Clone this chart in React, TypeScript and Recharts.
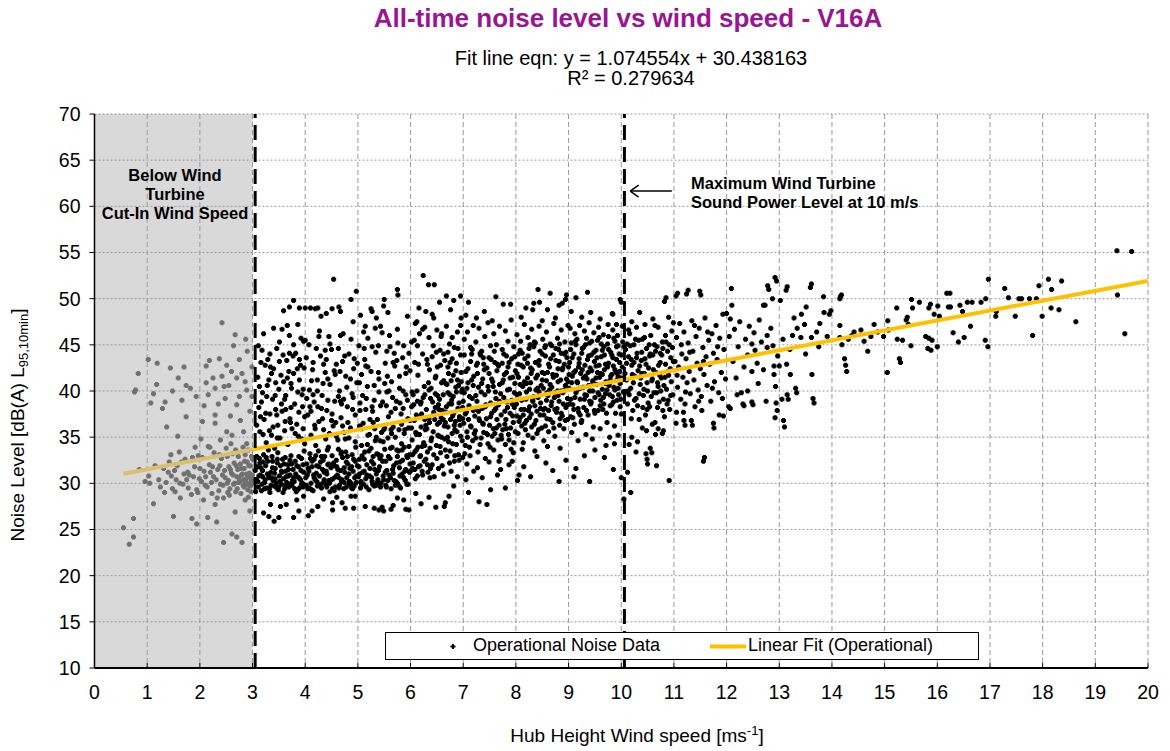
import React from "react";
import {
  ScatterChart,
  Scatter,
  XAxis,
  YAxis,
  CartesianGrid,
  ReferenceArea,
  ReferenceLine,
} from "recharts";

// Wind speed (m/s) / noise level (dB) pairs, grouped by wind speed band.
const belowCutIn: [number, number][] = [
  [0.55, 25.2], [0.66, 23.4], [0.74, 24.2], [0.74, 26.2], [0.76, 39.9], [0.78, 40.1], [0.83, 41.9], [0.85, 31.5],
  [0.96, 30.2], [1.02, 43.4], [1.05, 30.0], [1.07, 38.7], [1.12, 39.7], [1.12, 27.8], [1.18, 40.7], [1.19, 43.0],
  [1.25, 29.6], [1.29, 38.1], [1.34, 38.8], [1.37, 36.1], [1.4, 31.2], [1.44, 42.5], [1.46, 30.8], [1.5, 26.4],
  [1.52, 31.4], [1.55, 30.4], [1.59, 41.4], [1.62, 30.0], [1.63, 28.4], [1.66, 39.0], [1.7, 31.0], [1.74, 40.6],
  [1.74, 37.2], [1.75, 30.4], [1.78, 29.5], [1.82, 40.3], [1.85, 26.2], [1.88, 30.7], [1.9, 31.8], [1.93, 39.4],
  [1.94, 29.3], [1.94, 25.6], [1.97, 33.0], [2.0, 31.6], [2.03, 30.2], [2.07, 28.2], [2.1, 29.8], [2.12, 42.7],
  [2.12, 40.9], [2.15, 26.3], [2.16, 39.6], [2.16, 34.0], [2.2, 31.2], [2.22, 30.1], [2.25, 41.4], [2.26, 30.7],
  [2.29, 40.3], [2.29, 37.4], [2.29, 36.5], [2.29, 27.7], [2.32, 25.8], [2.34, 31.5], [2.36, 29.2], [2.39, 34.7],
  [2.39, 29.9], [2.42, 41.6], [2.42, 47.4], [2.45, 28.4], [2.45, 23.6], [2.46, 40.5], [2.48, 30.6], [2.51, 42.8],
  [2.51, 35.6], [2.52, 30.0], [2.52, 32.9], [2.55, 31.8], [2.57, 29.4], [2.59, 34.3], [2.61, 35.2], [2.61, 24.5],
  [2.63, 30.9], [2.65, 32.2], [2.67, 26.9], [2.68, 29.1], [2.7, 41.4], [2.7, 38.5], [2.7, 30.7], [2.7, 24.2],
  [2.72, 31.5], [2.73, 32.9], [2.75, 43.4], [2.75, 39.4], [2.76, 30.2], [2.78, 28.9], [2.8, 41.9], [2.8, 23.6],
  [2.81, 31.0], [2.83, 35.6], [2.84, 29.6], [2.85, 32.4], [2.86, 41.0], [2.86, 28.2], [2.88, 30.5], [2.89, 40.1],
  [2.89, 34.3], [2.89, 31.0], [2.91, 29.3], [2.92, 33.6], [2.93, 30.8], [2.95, 30.0], [2.95, 27.0], [2.96, 31.9],
  [2.97, 29.1], [2.98, 30.4], [2.99, 42.6], [2.99, 39.4], [3.0, 32.6], [3.01, 30.0],
  [1.31, 31.6], [1.36, 30.1], [1.42, 32.3], [1.48, 29.4], [1.57, 31.9], [1.61, 33.4], [1.68, 29.9], [1.72, 32.6],
  [1.8, 30.9], [1.84, 28.8], [1.91, 33.9], [1.99, 30.5], [2.05, 32.8], [2.08, 31.3], [2.14, 29.6], [2.18, 32.0],
  [2.23, 28.9], [2.27, 33.3], [2.31, 30.4], [2.38, 31.9], [2.41, 32.7], [2.44, 29.8], [2.47, 31.4], [2.5, 33.8],
  [2.54, 30.3], [2.56, 28.7], [2.6, 31.1], [2.62, 33.2], [2.66, 30.0], [2.69, 31.9], [2.71, 29.4], [2.74, 30.6],
  [2.77, 32.1], [2.79, 30.9], [2.82, 29.8], [2.84, 31.6], [2.87, 30.2], [2.9, 32.3], [2.92, 28.5], [2.94, 31.1],
  [2.96, 29.7], [2.98, 32.9], [3.0, 30.9], [2.58, 37.3], [2.35, 38.6], [2.77, 36.8], [2.18, 43.3], [2.64, 44.9],
  [2.87, 45.6], [2.48, 39.2], [1.58, 35.1], [2.05, 36.7], [2.95, 37.8], [2.82, 33.9], [2.55, 40.6],
  [1.03, 30.8], [1.15, 31.9], [1.22, 30.4], [1.33, 29.0], [1.45, 33.1], [1.53, 29.1], [1.65, 32.3], [1.77, 31.2],
  [1.86, 32.8], [1.96, 29.0], [2.02, 34.8], [2.11, 30.7], [2.19, 33.9], [2.24, 31.8], [2.33, 28.4], [2.37, 33.1],
  [2.43, 30.9], [2.53, 29.0], [2.58, 31.5], [2.64, 29.9], [2.68, 33.6], [2.73, 30.1], [2.78, 31.6], [2.83, 30.4],
  [2.86, 33.1], [2.9, 29.9], [2.93, 31.9], [2.97, 30.6], [2.6, 42.1], [2.37, 43.5], [2.08, 38.4], [1.7, 42.6],
  [1.48, 40.0], [2.9, 44.3], [2.67, 46.1],
];

const band3to4: [number, number][] = [
  [3.59, 48.7], [3.7, 49.1], [3.78, 49.8], [3.89, 49.0], [3.56, 46.7], [3.66, 47.1], [3.86, 47.2], [3.78, 45.0],
  [3.18, 44.4], [3.21, 26.8], [3.31, 26.4], [3.41, 25.9], [3.5, 26.3], [3.34, 27.7], [3.53, 27.5], [3.64, 27.7],
  [3.78, 26.3], [3.88, 27.0], [3.84, 28.2], [3.97, 28.6],
  [3.1, 41.5], [3.12, 38.2], [3.14, 35.6], [3.16, 43.1], [3.19, 39.8], [3.22, 36.9], [3.24, 42.8], [3.26, 34.4],
  [3.28, 40.6], [3.31, 41.2], [3.33, 37.5], [3.34, 42.6], [3.36, 35.2], [3.38, 39.1], [3.4, 42.4], [3.42, 33.8],
  [3.44, 38.0], [3.46, 44.6], [3.48, 36.3], [3.5, 40.2], [3.52, 34.9], [3.54, 41.7], [3.56, 37.8], [3.59, 41.0],
  [3.61, 35.7], [3.63, 39.5], [3.65, 43.3], [3.67, 34.2], [3.69, 42.1], [3.71, 37.0], [3.73, 40.8], [3.75, 35.9],
  [3.78, 41.9], [3.8, 38.6], [3.82, 44.1], [3.84, 36.4], [3.86, 39.9], [3.89, 41.2], [3.91, 42.8], [3.93, 34.8],
  [3.95, 38.3], [3.97, 45.4], [3.99, 37.2],
  [3.07, 30.4], [3.09, 31.8], [3.11, 29.6], [3.13, 32.7], [3.15, 30.9], [3.17, 29.2], [3.19, 31.4], [3.21, 33.1],
  [3.23, 30.1], [3.25, 31.9], [3.27, 29.5], [3.29, 32.4], [3.31, 30.6], [3.33, 29.0], [3.35, 31.2], [3.37, 32.9],
  [3.39, 30.3], [3.41, 29.7], [3.43, 31.6], [3.45, 30.0], [3.47, 32.2], [3.49, 29.3], [3.51, 30.8], [3.53, 31.9],
  [3.55, 29.9], [3.57, 32.6], [3.59, 30.5], [3.61, 29.4], [3.63, 31.3], [3.65, 30.1], [3.67, 32.0], [3.69, 29.6],
  [3.71, 30.9], [3.73, 33.0], [3.75, 29.8], [3.77, 31.5], [3.79, 30.2], [3.81, 32.4], [3.83, 29.1], [3.85, 30.7],
  [3.87, 31.8], [3.89, 29.5], [3.91, 30.4], [3.93, 32.7], [3.95, 30.0], [3.97, 31.2], [3.99, 29.7],
];

const band4to5: [number, number][] = [
  [4.0, 49.0], [4.1, 49.0], [4.19, 48.9], [4.24, 49.0], [4.3, 48.1], [4.4, 48.4], [4.51, 48.9], [4.54, 52.1],
  [4.64, 49.1], [4.67, 48.6], [4.87, 49.9], [4.97, 50.8], [4.91, 47.5], [4.0, 45.5], [4.26, 45.9], [4.45, 45.9],
  [4.67, 46.0], [4.72, 46.2],
  [4.06, 26.5], [4.13, 27.0], [4.24, 27.5], [4.52, 27.1], [4.52, 27.9], [4.7, 27.9], [4.76, 27.3], [4.87, 28.6],
  [4.92, 27.3], [4.95, 28.6], [4.35, 28.3], [4.6, 28.5],
  [4.02, 43.6], [4.05, 37.4], [4.08, 40.1], [4.11, 35.2], [4.14, 42.3], [4.17, 38.8], [4.2, 34.1], [4.23, 41.2],
  [4.26, 36.7], [4.29, 43.8], [4.32, 39.5], [4.35, 35.8], [4.38, 42.0], [4.41, 37.9], [4.44, 33.9], [4.47, 40.7],
  [4.5, 44.5], [4.53, 36.2], [4.56, 38.9], [4.59, 42.9], [4.62, 34.7], [4.65, 40.0], [4.68, 37.1], [4.71, 43.2],
  [4.74, 35.5], [4.77, 41.6], [4.8, 38.3], [4.83, 44.0], [4.86, 36.0], [4.89, 39.7], [4.92, 42.4], [4.95, 34.5],
  [4.98, 40.9], [4.15, 39.6], [4.43, 41.3], [4.73, 39.1], [4.58, 36.6], [4.33, 37.0],
  [4.01, 30.6], [4.03, 32.1], [4.05, 29.4], [4.07, 31.3], [4.09, 33.2], [4.11, 30.0], [4.13, 31.8], [4.15, 29.2],
  [4.17, 32.6], [4.19, 30.4], [4.21, 31.1], [4.23, 29.7], [4.25, 33.5], [4.27, 30.8], [4.29, 32.3], [4.31, 29.5],
  [4.33, 31.5], [4.35, 30.1], [4.37, 32.9], [4.39, 29.9], [4.41, 31.0], [4.43, 32.0], [4.45, 30.3], [4.47, 29.1],
  [4.49, 31.7], [4.51, 33.0], [4.53, 30.5], [4.55, 31.9], [4.57, 29.6], [4.59, 32.5], [4.61, 30.9], [4.63, 33.7],
  [4.65, 29.8], [4.67, 31.4], [4.69, 30.2], [4.71, 32.8], [4.73, 29.4], [4.75, 31.2], [4.77, 33.4], [4.79, 30.6],
  [4.81, 32.1], [4.83, 29.9], [4.85, 31.6], [4.87, 30.0], [4.89, 33.1], [4.91, 31.3], [4.93, 29.7], [4.95, 32.4],
  [4.97, 30.8], [4.99, 31.9],
];

const band5to6: [number, number][] = [
  [5.05, 48.2], [5.14, 47.0], [5.25, 48.9], [5.27, 48.6], [5.35, 47.9], [5.5, 49.9], [5.49, 49.2], [5.57, 48.5],
  [5.75, 51.0], [5.76, 50.4], [5.94, 48.1],
  [5.14, 27.5], [5.31, 27.3], [5.4, 27.1], [5.46, 27.4], [5.49, 27.0], [5.63, 27.2], [5.67, 27.6], [5.75, 28.4],
  [5.87, 28.2], [5.91, 27.2], [5.97, 27.1],
  [5.02, 44.9], [5.04, 38.7], [5.07, 41.8], [5.1, 36.5], [5.13, 43.4], [5.16, 39.2], [5.19, 45.7], [5.22, 35.3],
  [5.25, 42.1], [5.28, 37.8], [5.31, 40.6], [5.34, 44.2], [5.37, 36.9], [5.4, 41.3], [5.43, 38.4], [5.46, 46.3],
  [5.49, 35.8], [5.52, 43.0], [5.55, 39.9], [5.58, 37.2], [5.61, 44.8], [5.64, 41.0], [5.67, 36.1], [5.7, 42.7],
  [5.73, 38.9], [5.76, 45.2], [5.79, 40.3], [5.82, 37.5], [5.85, 43.6], [5.88, 35.4], [5.91, 41.9], [5.94, 39.0],
  [5.97, 44.1], [5.99, 36.8], [5.18, 40.5], [5.42, 34.6], [5.66, 39.3], [5.86, 38.1], [5.33, 46.8], [5.6, 46.0],
  [5.01, 30.7], [5.03, 32.6], [5.05, 29.5], [5.07, 34.1], [5.09, 31.2], [5.11, 29.9], [5.13, 33.4], [5.15, 30.5],
  [5.17, 32.0], [5.19, 35.2], [5.21, 29.3], [5.23, 31.6], [5.25, 33.8], [5.27, 30.2], [5.29, 32.9], [5.31, 29.7],
  [5.33, 34.6], [5.35, 31.0], [5.37, 30.1], [5.39, 33.1], [5.41, 31.8], [5.43, 29.6], [5.45, 35.5], [5.47, 32.4],
  [5.49, 30.4], [5.51, 33.7], [5.53, 29.8], [5.55, 31.4], [5.57, 34.9], [5.59, 30.9], [5.61, 32.7], [5.63, 29.4],
  [5.65, 33.9], [5.67, 31.1], [5.69, 30.3], [5.71, 35.0], [5.73, 32.2], [5.75, 30.0], [5.77, 33.5], [5.79, 31.7],
  [5.81, 29.5], [5.83, 34.3], [5.85, 32.5], [5.87, 30.6], [5.89, 35.8], [5.91, 31.5], [5.93, 33.0], [5.95, 29.9],
  [5.97, 34.0], [5.99, 32.1],
];

// extra readings in the crowded low-wind band
const core3to6: [number, number][] = [
  [3.06, 29.1], [3.08, 32.9], [3.12, 30.8], [3.16, 31.7], [3.18, 29.9], [3.2, 32.3], [3.24, 30.4], [3.28, 31.0],
  [3.3, 33.6], [3.32, 29.4], [3.36, 30.6], [3.38, 32.4], [3.42, 31.1], [3.46, 29.5], [3.48, 33.3], [3.52, 30.2],
  [3.56, 31.2], [3.58, 29.0], [3.62, 32.8], [3.64, 30.7], [3.68, 31.5], [3.72, 29.9], [3.74, 32.1], [3.78, 30.6],
  [3.82, 31.0], [3.86, 29.3], [3.88, 32.9], [3.92, 31.4], [3.96, 29.6], [3.98, 33.5],
  [4.02, 29.8], [4.06, 31.6], [4.1, 32.7], [4.12, 29.3], [4.16, 30.9], [4.2, 33.0], [4.22, 30.2], [4.26, 31.8],
  [4.3, 29.6], [4.34, 32.5], [4.36, 30.4], [4.4, 31.3], [4.42, 33.6], [4.46, 30.0], [4.48, 31.9], [4.52, 29.4],
  [4.54, 32.2], [4.58, 30.7], [4.62, 31.5], [4.64, 29.5], [4.68, 33.2], [4.7, 30.4], [4.74, 31.7], [4.78, 29.6],
  [4.8, 32.9], [4.84, 30.2], [4.88, 31.8], [4.9, 29.4], [4.94, 30.6], [4.96, 33.9],
  [5.02, 31.8], [5.06, 30.2], [5.08, 33.0], [5.12, 31.3], [5.16, 29.6], [5.18, 34.2], [5.22, 30.8], [5.26, 32.4],
  [5.28, 29.9], [5.32, 31.5], [5.36, 33.2], [5.38, 30.4], [5.42, 32.7], [5.44, 30.0], [5.48, 34.5], [5.52, 31.2],
  [5.54, 29.6], [5.58, 32.9], [5.62, 30.6], [5.64, 35.4], [5.68, 31.9], [5.72, 30.2], [5.74, 33.6], [5.78, 29.7],
  [5.8, 32.3], [5.84, 31.0], [5.88, 33.9], [5.9, 30.3], [5.94, 32.8], [5.98, 31.2],
  [3.15, 37.2], [3.27, 39.4], [3.39, 36.1], [3.51, 43.2], [3.63, 38.0], [3.74, 40.3], [3.87, 35.1], [3.98, 42.5],
  [4.09, 38.3], [4.21, 44.6], [4.34, 40.8], [4.46, 35.4], [4.57, 41.8], [4.69, 38.6], [4.81, 36.6], [4.93, 43.5],
  [5.03, 36.2], [5.15, 42.7], [5.27, 38.3], [5.39, 44.9], [5.51, 40.8], [5.63, 37.7], [5.74, 43.3], [5.86, 40.0],
  [5.96, 36.0], [3.44, 40.9], [3.7, 44.1], [3.94, 39.6], [4.18, 36.3], [4.4, 43.4], [4.63, 39.4], [4.86, 41.3],
  [5.09, 39.5], [5.32, 35.9], [5.56, 41.6], [5.8, 38.7],
];

const lowBand3to6: [number, number][] = [
  [3.05, 31.4], [3.1, 30.2], [3.14, 32.2], [3.19, 30.7], [3.23, 29.4], [3.26, 32.8], [3.3, 30.9], [3.35, 29.8],
  [3.38, 31.7], [3.43, 30.5], [3.47, 32.6], [3.5, 29.6], [3.55, 31.3], [3.6, 32.1], [3.63, 29.7], [3.68, 30.8],
  [3.71, 32.5], [3.76, 30.3], [3.8, 29.4], [3.84, 31.9], [3.88, 30.6], [3.93, 29.9], [3.96, 32.0],
  [4.04, 30.9], [4.08, 29.5], [4.13, 32.4], [4.17, 30.6], [4.22, 31.9], [4.27, 29.9], [4.31, 32.9], [4.36, 31.2],
  [4.41, 29.6], [4.45, 32.1], [4.5, 30.4], [4.55, 29.2], [4.6, 31.8], [4.64, 30.6], [4.69, 33.4], [4.74, 30.1],
  [4.78, 32.3], [4.83, 31.0], [4.88, 29.5], [4.92, 32.6], [4.97, 30.1],
  [5.03, 31.0], [5.07, 29.9], [5.12, 32.6], [5.17, 30.9], [5.21, 33.5], [5.26, 30.6], [5.3, 32.1], [5.35, 29.8],
  [5.39, 31.4], [5.44, 33.0], [5.48, 30.8], [5.53, 32.4], [5.57, 30.3], [5.62, 33.8], [5.66, 31.5], [5.71, 29.8],
  [5.75, 32.9], [5.8, 30.8], [5.84, 33.6], [5.89, 31.3], [5.93, 29.9], [5.98, 33.1],
  [6.04, 31.6], [6.08, 33.4], [6.13, 30.8], [6.18, 32.9], [6.22, 31.3], [6.27, 34.1], [6.32, 32.0], [6.37, 30.6],
  [3.2, 35.3], [3.46, 37.4], [3.72, 36.6], [3.96, 35.9], [4.24, 38.3], [4.5, 36.8], [4.76, 34.8], [5.04, 37.9],
  [5.29, 36.6], [5.54, 38.4], [5.78, 35.8], [6.02, 38.3], [3.33, 44.0], [3.61, 39.1], [3.89, 43.4], [4.12, 41.1],
  [4.38, 44.4], [4.66, 42.1], [4.9, 38.0], [5.12, 44.6], [5.4, 39.9], [5.69, 44.1], [5.92, 42.6],
];

const mid3to7: [number, number][] = [
  [3.08, 36.3], [3.11, 44.9], [3.13, 40.5], [3.17, 38.8], [3.21, 46.2], [3.25, 37.6], [3.29, 43.4], [3.32, 35.7],
  [3.36, 41.9], [3.4, 46.8], [3.43, 39.5], [3.47, 34.9], [3.51, 45.3], [3.55, 38.6], [3.58, 43.9], [3.62, 36.7],
  [3.66, 41.4], [3.7, 46.0], [3.73, 38.2], [3.77, 43.8], [3.81, 35.4], [3.85, 42.4], [3.88, 37.7], [3.92, 45.7],
  [3.96, 40.2], [3.99, 34.3],
  [4.03, 39.2], [4.07, 45.0], [4.11, 37.8], [4.15, 43.1], [4.19, 35.9], [4.23, 40.0], [4.27, 46.5], [4.31, 38.1],
  [4.35, 42.9], [4.39, 34.8], [4.43, 39.0], [4.47, 45.1], [4.51, 37.5], [4.55, 42.2], [4.59, 35.1], [4.63, 44.6],
  [4.67, 38.9], [4.71, 36.2], [4.75, 43.8], [4.79, 40.4], [4.83, 34.9], [4.87, 45.6], [4.91, 39.3], [4.95, 37.4],
  [4.99, 43.0],
  [5.03, 40.9], [5.07, 35.9], [5.11, 46.4], [5.15, 38.0], [5.19, 42.6], [5.23, 36.9], [5.27, 44.8], [5.31, 39.0],
  [5.35, 35.0], [5.39, 42.0], [5.43, 47.0], [5.47, 38.8], [5.51, 36.0], [5.55, 44.3], [5.59, 40.0], [5.63, 35.8],
  [5.67, 43.1], [5.71, 38.1], [5.75, 46.7], [5.79, 41.6], [5.83, 36.4], [5.87, 44.9], [5.91, 39.6], [5.95, 37.0],
  [5.99, 42.2],
  [6.03, 39.9], [6.07, 45.5], [6.11, 35.3], [6.15, 42.9], [6.19, 38.6], [6.23, 46.7], [6.27, 36.9], [6.31, 43.4],
  [6.35, 40.1], [6.39, 34.6], [6.43, 44.9], [6.47, 39.7], [6.51, 42.6], [6.55, 36.6], [6.59, 46.2], [6.63, 41.1],
  [6.67, 37.7], [6.71, 44.2], [6.75, 39.6], [6.79, 45.8], [6.83, 36.3], [6.87, 43.0], [6.91, 40.6], [6.95, 47.1],
  [6.99, 37.0],
];

const band6to7: [number, number][] = [
  [6.09, 47.3], [6.12, 47.5], [6.16, 49.0], [6.24, 52.5], [6.29, 48.6], [6.34, 51.5], [6.41, 48.3], [6.44, 47.9],
  [6.45, 51.5], [6.68, 50.3], [6.76, 48.8], [6.82, 49.8], [6.95, 50.3], [6.96, 47.9], [6.55, 49.6],
  [6.64, 27.5], [6.66, 27.9], [6.73, 28.6], [6.82, 29.7], [6.89, 30.7], [6.2, 27.8], [6.35, 28.5], [6.48, 27.4],
  [6.1, 28.9],
  [6.02, 45.3], [6.05, 39.6], [6.08, 43.1], [6.11, 37.4], [6.14, 41.7], [6.17, 46.2], [6.2, 38.8], [6.23, 44.0],
  [6.26, 40.5], [6.29, 36.3], [6.32, 42.9], [6.35, 45.8], [6.38, 39.2], [6.41, 43.7], [6.44, 37.7], [6.47, 41.4],
  [6.5, 46.6], [6.53, 38.5], [6.56, 44.4], [6.59, 40.9], [6.62, 36.9], [6.65, 43.3], [6.68, 47.0], [6.71, 39.8],
  [6.74, 45.1], [6.77, 41.1], [6.8, 37.3], [6.83, 44.7], [6.86, 42.2], [6.89, 46.4], [6.92, 38.7], [6.95, 43.9],
  [6.98, 40.2], [6.13, 44.9], [6.36, 42.3], [6.58, 45.9], [6.79, 43.5], [6.27, 46.9], [6.49, 44.2], [6.71, 42.6],
  [6.01, 31.4], [6.03, 34.7], [6.05, 32.2], [6.07, 36.8], [6.09, 30.5], [6.11, 33.6], [6.13, 38.9], [6.15, 31.8],
  [6.17, 35.3], [6.19, 33.0], [6.21, 37.5], [6.23, 30.9], [6.25, 34.4], [6.27, 39.6], [6.29, 32.6], [6.31, 35.9],
  [6.33, 31.2], [6.35, 37.0], [6.37, 33.8], [6.39, 40.3], [6.41, 32.0], [6.43, 35.6], [6.45, 30.7], [6.47, 38.2],
  [6.49, 34.1], [6.51, 36.4], [6.53, 31.6], [6.55, 39.1], [6.57, 33.3], [6.59, 35.0], [6.61, 37.8], [6.63, 31.0],
  [6.65, 34.8], [6.67, 40.8], [6.69, 32.9], [6.71, 36.1], [6.73, 38.6], [6.75, 33.5], [6.77, 31.3], [6.79, 35.4],
  [6.81, 39.4], [6.83, 32.4], [6.85, 36.7], [6.87, 34.2], [6.89, 41.2], [6.91, 33.1], [6.93, 37.2], [6.95, 35.1],
  [6.97, 39.9], [6.99, 32.8],
];

const band7to8: [number, number][] = [
  [7.1, 49.6], [7.25, 47.9], [7.4, 48.6], [7.55, 47.6], [7.76, 49.4], [7.9, 49.4], [7.62, 50.2], [7.05, 48.2],
  [7.2, 31.3], [7.36, 30.6], [7.52, 29.3], [7.65, 30.9], [7.68, 32.4], [7.93, 32.4], [7.95, 33.3], [7.1, 29.0],
  [7.3, 28.0], [7.45, 27.7], [7.8, 29.5], [7.05, 30.4],
  [7.02, 45.6], [7.08, 46.4], [7.14, 44.7], [7.19, 47.1], [7.24, 45.3], [7.3, 46.8], [7.35, 44.3], [7.41, 45.9],
  [7.47, 47.4], [7.52, 44.9], [7.58, 46.2], [7.63, 45.0], [7.69, 47.0], [7.74, 44.5], [7.8, 46.5], [7.85, 45.4],
  [7.91, 47.7], [7.96, 44.8],
  [7.01, 36.5], [7.02, 39.8], [7.03, 33.2], [7.05, 42.1], [7.06, 37.7], [7.08, 35.0], [7.09, 40.9], [7.11, 38.4],
  [7.12, 33.9], [7.14, 43.2], [7.15, 36.1], [7.17, 39.2], [7.18, 34.6], [7.2, 41.6], [7.22, 37.3], [7.23, 35.7],
  [7.25, 42.8], [7.26, 38.9], [7.28, 33.4], [7.29, 40.4], [7.31, 36.8], [7.33, 43.9], [7.34, 34.9], [7.36, 38.1],
  [7.37, 41.3], [7.39, 35.5], [7.41, 39.6], [7.42, 32.7], [7.44, 37.0], [7.45, 42.5], [7.47, 34.3], [7.48, 40.0],
  [7.5, 36.3], [7.52, 38.7], [7.53, 43.4], [7.55, 35.1], [7.56, 41.0], [7.58, 33.6], [7.59, 37.9], [7.61, 39.9],
  [7.63, 36.0], [7.64, 42.2], [7.66, 34.7], [7.67, 38.5], [7.69, 40.7], [7.7, 32.9], [7.72, 37.4], [7.74, 43.0],
  [7.75, 35.8], [7.77, 39.3], [7.78, 41.8], [7.8, 34.2], [7.81, 36.9], [7.83, 38.8], [7.85, 42.6], [7.86, 35.3],
  [7.88, 40.2], [7.89, 37.6], [7.91, 33.7], [7.92, 39.0], [7.94, 41.5], [7.95, 36.6], [7.97, 38.2], [7.98, 43.7],
  [7.99, 35.6], [7.07, 32.1], [7.27, 31.7], [7.49, 32.3], [7.71, 31.5], [7.87, 32.0], [7.16, 44.0], [7.38, 43.6],
  [7.6, 43.1], [7.82, 43.8],
];

const core6to8: [number, number][] = [
  [6.02, 36.0], [6.04, 33.1], [6.06, 38.5], [6.08, 31.5], [6.1, 35.5], [6.12, 40.0], [6.14, 33.9], [6.16, 37.2],
  [6.18, 31.9], [6.2, 36.1], [6.22, 34.0], [6.24, 39.3], [6.26, 32.4], [6.28, 35.8], [6.3, 38.0], [6.32, 33.4],
  [6.34, 40.9], [6.36, 36.6], [6.38, 31.6], [6.4, 34.9], [6.42, 38.8], [6.44, 33.1], [6.46, 36.9], [6.48, 41.6],
  [6.5, 32.7], [6.52, 35.2], [6.54, 38.0], [6.56, 34.0], [6.58, 37.1], [6.6, 31.9], [6.62, 39.6], [6.64, 36.2],
  [6.66, 33.6], [6.68, 38.3], [6.7, 35.0], [6.72, 41.9], [6.74, 32.2], [6.76, 36.9], [6.78, 39.0], [6.8, 34.3],
  [6.82, 37.6], [6.84, 33.0], [6.86, 40.4], [6.88, 35.6], [6.9, 38.1], [6.92, 32.5], [6.94, 36.3], [6.96, 42.0],
  [6.98, 34.6],
  [7.0, 38.9], [7.04, 34.1], [7.07, 40.3], [7.1, 36.9], [7.13, 33.0], [7.16, 41.2], [7.19, 37.9], [7.21, 35.4],
  [7.24, 39.5], [7.27, 43.0], [7.3, 37.0], [7.32, 34.2], [7.35, 40.8], [7.38, 36.4], [7.4, 42.3], [7.43, 38.5],
  [7.46, 35.3], [7.49, 41.9], [7.51, 33.9], [7.54, 37.6], [7.57, 40.5], [7.6, 35.4], [7.62, 38.1], [7.65, 42.9],
  [7.68, 36.3], [7.71, 39.7], [7.73, 34.8], [7.76, 41.2], [7.79, 37.8], [7.82, 35.9], [7.84, 40.1], [7.87, 43.1],
  [7.9, 36.0], [7.93, 38.6], [7.96, 34.4], [7.98, 40.8],
];

const band8to9: [number, number][] = [
  [8.19, 49.0], [8.34, 49.5], [8.32, 48.8], [8.42, 51.0], [8.45, 49.6], [8.6, 48.8], [8.65, 50.6], [8.82, 49.3],
  [8.88, 49.5], [8.94, 49.9], [8.96, 50.4], [8.1, 48.0], [8.5, 47.6], [8.75, 47.9],
  [8.03, 30.3], [8.06, 30.9], [8.28, 30.7], [8.57, 32.2], [8.82, 30.2], [8.15, 31.8], [8.4, 32.9], [8.7, 31.4],
  [8.95, 32.5],
  [8.02, 46.1], [8.09, 45.4], [8.16, 47.2], [8.23, 45.8], [8.3, 46.7], [8.37, 45.2], [8.44, 47.0], [8.51, 45.6],
  [8.58, 46.4], [8.65, 45.1], [8.72, 47.3], [8.79, 45.7], [8.86, 46.6], [8.93, 45.3], [8.99, 47.1],
  [8.01, 38.6], [8.02, 41.9], [8.04, 35.4], [8.05, 44.0], [8.07, 39.7], [8.08, 37.1], [8.1, 42.8], [8.11, 36.2],
  [8.13, 40.5], [8.14, 34.4], [8.16, 38.0], [8.17, 43.5], [8.19, 39.1], [8.2, 36.8], [8.22, 41.4], [8.23, 35.2],
  [8.25, 44.6], [8.26, 38.3], [8.28, 40.9], [8.29, 37.5], [8.31, 42.3], [8.32, 34.9], [8.34, 39.4], [8.35, 36.4],
  [8.37, 43.1], [8.38, 40.1], [8.4, 37.8], [8.41, 41.7], [8.43, 35.8], [8.44, 39.9], [8.46, 44.3], [8.47, 38.7],
  [8.49, 36.0], [8.5, 42.0], [8.52, 40.3], [8.53, 34.6], [8.55, 38.1], [8.56, 43.8], [8.58, 41.1], [8.59, 37.0],
  [8.61, 39.5], [8.62, 35.6], [8.64, 42.6], [8.65, 40.7], [8.67, 38.4], [8.68, 44.9], [8.7, 36.6], [8.71, 41.5],
  [8.73, 39.3], [8.74, 35.1], [8.76, 43.3], [8.77, 37.7], [8.79, 40.0], [8.8, 42.4], [8.82, 38.9], [8.83, 36.3],
  [8.85, 41.2], [8.86, 44.1], [8.88, 37.3], [8.89, 39.8], [8.91, 35.9], [8.92, 42.9], [8.94, 40.6], [8.95, 38.2],
  [8.97, 43.6], [8.98, 36.9], [8.99, 41.0], [8.12, 33.7], [8.36, 33.5], [8.6, 34.0], [8.84, 33.8], [8.27, 45.0],
  [8.55, 44.7], [8.81, 44.5],
];

const band9to10: [number, number][] = [
  [9.14, 50.1], [9.36, 50.7], [9.42, 48.5], [9.83, 48.4], [10.0, 49.6], [9.98, 49.9], [9.91, 47.2], [9.84, 48.3],
  [9.25, 48.0], [9.6, 47.8], [9.05, 48.6],
  [9.14, 31.6], [9.1, 30.7], [9.68, 32.8], [10.0, 30.6], [9.94, 35.2], [9.71, 34.1], [9.87, 34.3], [9.3, 33.0],
  [9.5, 33.6], [9.85, 31.5], [9.4, 30.2],
  [9.03, 46.8], [9.12, 46.2], [9.21, 47.1], [9.3, 46.5], [9.39, 47.4], [9.48, 46.3], [9.57, 46.9], [9.66, 46.1],
  [9.75, 47.2], [9.84, 46.6], [9.93, 46.0], [10.02, 47.0],
  [9.01, 40.3], [9.02, 43.1], [9.04, 37.2], [9.05, 45.2], [9.07, 41.6], [9.08, 38.5], [9.1, 44.0], [9.11, 36.4],
  [9.13, 42.2], [9.14, 39.8], [9.16, 45.6], [9.17, 40.9], [9.19, 37.7], [9.2, 43.5], [9.22, 39.1], [9.23, 41.9],
  [9.25, 36.8], [9.26, 44.6], [9.28, 40.4], [9.29, 38.2], [9.31, 42.8], [9.32, 45.0], [9.34, 39.5], [9.35, 41.3],
  [9.37, 37.4], [9.38, 43.8], [9.4, 40.0], [9.41, 42.5], [9.43, 38.8], [9.44, 45.4], [9.46, 41.1], [9.47, 36.1],
  [9.49, 43.2], [9.5, 39.3], [9.52, 44.4], [9.53, 40.7], [9.55, 42.0], [9.56, 37.9], [9.58, 45.8], [9.59, 41.5],
  [9.61, 39.0], [9.62, 43.7], [9.64, 40.2], [9.65, 38.0], [9.67, 44.8], [9.68, 42.3], [9.7, 39.7], [9.71, 41.0],
  [9.73, 36.6], [9.74, 45.1], [9.76, 43.0], [9.77, 40.6], [9.79, 38.4], [9.8, 44.2], [9.82, 41.8], [9.83, 39.4],
  [9.85, 42.7], [9.86, 45.7], [9.88, 40.1], [9.89, 37.6], [9.91, 43.4], [9.92, 41.2], [9.94, 44.9], [9.95, 39.6],
  [9.97, 42.1], [9.98, 38.3], [10.0, 43.9], [10.01, 41.4], [10.03, 45.3], [10.04, 39.9], [9.06, 35.5], [9.33, 35.3],
  [9.6, 35.9], [9.87, 36.2], [9.18, 34.6], [9.45, 34.8], [9.78, 35.0],
];

const core8to11: [number, number][] = [
  [8.02, 39.6], [8.04, 42.9], [8.06, 36.7], [8.08, 40.7], [8.1, 38.0], [8.12, 44.1], [8.14, 37.4], [8.16, 41.0],
  [8.18, 35.8], [8.2, 39.9], [8.22, 43.0], [8.24, 37.9], [8.26, 40.2], [8.28, 42.5], [8.3, 36.1], [8.32, 39.0],
  [8.34, 44.8], [8.36, 38.4], [8.38, 41.4], [8.4, 35.4], [8.42, 39.3], [8.44, 42.8], [8.46, 37.4], [8.48, 40.6],
  [8.5, 44.0], [8.52, 38.0], [8.54, 41.9], [8.56, 36.2], [8.58, 39.0], [8.6, 42.0], [8.62, 37.9], [8.64, 40.1],
  [8.66, 43.5], [8.68, 38.8], [8.7, 41.8], [8.72, 36.0], [8.74, 39.8], [8.76, 44.6], [8.78, 38.1], [8.8, 41.0],
  [8.82, 43.2], [8.84, 37.0], [8.86, 40.0], [8.88, 42.3], [8.9, 38.6], [8.92, 44.0], [8.94, 36.8], [8.96, 41.3],
  [8.98, 39.2],
  [9.0, 42.6], [9.02, 38.6], [9.04, 44.5], [9.06, 40.9], [9.08, 37.1], [9.1, 42.0], [9.12, 39.3], [9.14, 45.0],
  [9.16, 41.0], [9.18, 38.1], [9.2, 43.0], [9.22, 40.3], [9.24, 36.6], [9.26, 42.3], [9.28, 44.7], [9.3, 39.1],
  [9.32, 41.6], [9.34, 37.9], [9.36, 43.4], [9.38, 40.6], [9.4, 45.2], [9.42, 38.6], [9.44, 42.2], [9.46, 40.0],
  [9.48, 44.2], [9.5, 37.6], [9.52, 41.4], [9.54, 43.6], [9.56, 39.8], [9.58, 42.8], [9.6, 38.4], [9.62, 45.1],
  [9.64, 41.8], [9.66, 39.3], [9.68, 43.9], [9.7, 40.8], [9.72, 37.6], [9.74, 42.6], [9.76, 44.5], [9.78, 39.6],
  [9.8, 41.6], [9.82, 38.5], [9.84, 43.6], [9.86, 40.4], [9.88, 45.4], [9.9, 42.0], [9.92, 39.0], [9.94, 41.6],
  [9.96, 44.0], [9.98, 40.8], [10.0, 37.5], [10.02, 42.6], [10.05, 44.8],
  [10.1, 43.0], [10.13, 40.0], [10.17, 44.9], [10.21, 41.8], [10.25, 39.0], [10.29, 43.6], [10.33, 45.5],
  [10.37, 41.4], [10.41, 38.2], [10.45, 43.5], [10.49, 40.9], [10.53, 45.0], [10.57, 39.4], [10.61, 42.3],
  [10.65, 44.3], [10.69, 38.2], [10.73, 41.7], [10.77, 43.9], [10.81, 40.6], [10.85, 45.3], [10.89, 39.0],
  [10.93, 42.4], [10.97, 44.7],
];

const core7to11: [number, number][] = [
  [6.51, 39.5], [6.54, 35.1], [6.57, 42.8], [6.6, 37.9], [6.63, 44.0], [6.66, 36.6], [6.69, 40.7], [6.72, 34.5],
  [6.75, 43.1], [6.78, 38.6], [6.81, 41.7], [6.84, 35.8], [6.87, 39.9], [6.9, 44.6], [6.93, 36.9], [6.96, 41.0],
  [6.99, 38.2],
  [7.02, 43.9], [7.04, 37.5], [7.07, 35.6], [7.09, 42.4], [7.12, 39.4], [7.14, 36.2], [7.17, 44.5], [7.19, 40.6],
  [7.22, 38.0], [7.24, 34.9], [7.27, 41.9], [7.29, 37.8], [7.32, 44.1], [7.34, 39.9], [7.37, 36.5], [7.39, 42.9],
  [7.42, 38.3], [7.44, 35.4], [7.47, 40.5], [7.49, 43.6], [7.52, 37.2], [7.54, 41.3], [7.57, 35.9], [7.59, 44.3],
  [7.62, 39.2], [7.64, 36.9], [7.67, 42.7], [7.69, 38.9], [7.72, 35.2], [7.74, 40.9], [7.77, 44.0], [7.79, 36.4],
  [7.82, 42.0], [7.84, 38.2], [7.87, 34.7], [7.89, 41.4], [7.92, 43.5], [7.94, 37.3], [7.97, 39.8], [7.99, 42.2],
  [8.02, 37.3], [8.05, 41.5], [8.08, 44.4], [8.11, 39.0], [8.14, 42.6], [8.17, 36.5], [8.2, 40.8], [8.23, 43.8],
  [8.26, 37.1], [8.29, 41.9], [8.32, 38.9], [8.35, 45.3], [8.38, 36.8], [8.41, 40.3], [8.44, 43.3], [8.47, 38.1],
  [8.5, 41.2], [8.53, 37.4], [8.56, 44.9], [8.59, 39.8], [8.62, 42.9], [8.65, 36.9], [8.68, 40.4], [8.71, 43.9],
  [8.74, 38.0], [8.77, 41.7], [8.8, 39.5], [8.83, 45.1], [8.86, 37.6], [8.89, 42.5], [8.92, 40.1], [8.95, 44.2],
  [8.98, 38.5],
  [9.01, 41.8], [9.04, 39.1], [9.07, 43.6], [9.1, 38.0], [9.13, 45.4], [9.16, 40.1], [9.19, 42.6], [9.22, 37.4],
  [9.25, 44.1], [9.28, 41.4], [9.31, 39.6], [9.34, 45.7], [9.37, 42.0], [9.4, 38.9], [9.43, 43.9], [9.46, 40.9],
  [9.49, 37.9], [9.52, 42.7], [9.55, 45.5], [9.58, 39.6], [9.61, 41.9], [9.64, 44.4], [9.67, 38.6], [9.7, 42.9],
  [9.73, 40.1], [9.76, 45.9], [9.79, 41.2], [9.82, 43.9], [9.85, 38.8], [9.88, 42.3], [9.91, 44.8], [9.94, 40.3],
  [9.97, 43.1], [9.99, 39.1],
  [10.07, 41.9], [10.11, 45.1], [10.15, 39.6], [10.19, 43.4], [10.23, 40.9], [10.27, 45.6], [10.31, 38.4],
  [10.35, 42.7], [10.39, 44.2], [10.43, 40.2], [10.47, 42.9], [10.51, 38.7], [10.55, 44.0], [10.59, 41.3],
  [10.63, 45.0], [10.67, 39.8], [10.71, 42.8], [10.75, 40.0], [10.79, 44.6], [10.83, 41.5], [10.87, 38.6],
  [10.91, 45.0], [10.95, 41.0], [10.99, 43.2],
];

const band10to11: [number, number][] = [
  [10.08, 44.5], [10.1, 41.2], [10.12, 38.6], [10.14, 43.7], [10.16, 46.2], [10.18, 40.3], [10.2, 42.8],
  [10.22, 37.9], [10.24, 45.0], [10.26, 41.6], [10.28, 39.2], [10.3, 44.1], [10.32, 42.2], [10.34, 36.9],
  [10.36, 40.7], [10.38, 43.3], [10.4, 45.6], [10.42, 39.5], [10.44, 41.9], [10.46, 37.4], [10.48, 44.6],
  [10.5, 40.0], [10.52, 42.5], [10.54, 38.3], [10.56, 46.0], [10.58, 41.1], [10.6, 43.9], [10.62, 39.8],
  [10.64, 36.6], [10.66, 42.0], [10.68, 44.8], [10.7, 40.5], [10.72, 38.8], [10.74, 43.1], [10.76, 41.4],
  [10.78, 45.3], [10.8, 39.1], [10.82, 37.2], [10.84, 42.9], [10.86, 40.2], [10.88, 44.3], [10.9, 41.7],
  [10.92, 38.0], [10.94, 43.6], [10.96, 46.5], [10.98, 39.6],
  [10.28, 33.4], [10.31, 34.5], [10.47, 33.2], [10.48, 35.7], [10.49, 32.6], [10.5, 32.1], [10.55, 33.8],
  [10.58, 33.3], [10.65, 35.3], [10.67, 31.9], [10.7, 35.9], [10.78, 35.4], [10.8, 35.7], [10.91, 30.3],
  [10.2, 35.0], [10.4, 36.0], [10.15, 34.2], [10.12, 31.2], [10.18, 29.0], [10.05, 28.3],
  [10.82, 49.7], [10.85, 50.1], [10.2, 47.5], [10.45, 47.2], [10.6, 47.8], [10.7, 46.9], [10.35, 48.5],
  [10.9, 48.0],
  [10.09, 39.9], [10.14, 46.6], [10.19, 37.0], [10.24, 43.1], [10.29, 46.9], [10.34, 39.7], [10.39, 41.9],
  [10.44, 45.8], [10.49, 38.0], [10.54, 43.8], [10.59, 36.4], [10.64, 47.1], [10.69, 40.9], [10.74, 44.1],
  [10.79, 37.9], [10.84, 46.0], [10.89, 42.1], [10.94, 39.5], [10.99, 47.4],
];

const band11to12: [number, number][] = [
  [11.04, 50.3], [11.24, 50.5], [11.51, 50.4], [11.07, 50.6], [11.27, 50.9], [11.49, 50.8],
  [11.04, 36.5], [11.19, 36.8], [11.33, 36.8], [11.21, 36.3], [11.35, 36.3], [11.76, 36.0], [11.86, 37.4],
  [11.05, 37.7], [11.18, 37.7], [11.53, 37.9], [11.58, 32.8], [11.56, 32.4], [11.75, 36.5], [11.94, 37.3],
  [11.02, 43.2], [11.05, 45.8], [11.07, 40.4], [11.09, 42.6], [11.11, 47.3], [11.13, 39.1], [11.15, 44.0],
  [11.17, 41.5], [11.19, 46.4], [11.21, 38.6], [11.23, 43.5], [11.25, 40.9], [11.27, 45.2], [11.29, 42.1],
  [11.31, 39.7], [11.34, 47.6], [11.36, 44.3], [11.38, 41.2], [11.4, 38.3], [11.42, 45.9], [11.44, 43.0],
  [11.46, 40.1], [11.48, 46.8], [11.5, 42.4], [11.52, 39.4], [11.55, 44.7], [11.57, 41.8], [11.59, 47.9],
  [11.61, 43.7], [11.63, 40.6], [11.66, 45.5], [11.68, 42.9], [11.7, 38.9], [11.72, 46.2], [11.75, 44.1],
  [11.77, 41.0], [11.8, 47.1], [11.82, 43.4], [11.85, 39.8], [11.87, 45.7], [11.9, 42.0], [11.93, 48.3],
  [11.95, 44.5], [11.98, 41.3],
  [11.06, 41.7], [11.14, 45.0], [11.22, 39.9], [11.3, 44.2], [11.39, 47.1], [11.47, 38.9], [11.56, 43.2],
  [11.64, 46.4], [11.73, 40.3], [11.83, 44.8], [11.92, 39.2],
];

const band12to14: [number, number][] = [
  [12.0, 48.4], [12.07, 47.8], [12.09, 51.1], [12.1, 49.3], [12.04, 38.3], [12.07, 38.1], [12.28, 39.8],
  [12.31, 38.6], [12.33, 38.4], [12.48, 45.1], [12.54, 44.4], [12.48, 42.1], [12.48, 38.8], [12.5, 38.5],
  [12.7, 49.3], [12.73, 49.3], [12.77, 46.0], [12.77, 44.7], [12.75, 38.9], [12.8, 51.0], [12.78, 51.4],
  [12.87, 50.0], [12.9, 41.8], [12.9, 42.7], [12.93, 40.5], [12.92, 52.3], [12.92, 37.1], [12.94, 38.7],
  [12.95, 51.9], [12.96, 37.9], [12.97, 43.8],
  [12.05, 45.9], [12.12, 43.2], [12.15, 46.7], [12.18, 41.4], [12.22, 44.8], [12.25, 47.5], [12.33, 42.6],
  [12.36, 45.6], [12.4, 43.9], [12.43, 47.0], [12.52, 46.3], [12.58, 43.0], [12.62, 47.7], [12.66, 45.3],
  [12.7, 42.3], [12.84, 46.8], [12.88, 44.9], [12.2, 39.6], [12.6, 40.8], [12.4, 40.0],
  [13.02, 49.8], [13.0, 42.7], [13.05, 39.1], [13.07, 45.6], [13.08, 36.8], [13.1, 36.1], [13.14, 42.9],
  [13.15, 39.6], [13.13, 50.9], [13.17, 39.1], [13.15, 51.3], [13.21, 41.8], [13.28, 47.9], [13.31, 40.3],
  [13.33, 39.8], [13.34, 46.8], [13.41, 45.8], [13.42, 48.3], [13.48, 47.2], [13.51, 49.1], [13.59, 51.2],
  [13.61, 51.6], [13.61, 45.8], [13.62, 41.8], [13.64, 39.2], [13.66, 38.7], [13.71, 46.4], [13.77, 47.3],
  [13.84, 50.2], [13.85, 48.5], [13.91, 45.9], [13.95, 48.3], [13.98, 48.7], [13.2, 44.5], [13.5, 44.0],
  [13.75, 44.8], [13.25, 46.0],
];

const band14to20: [number, number][] = [
  [14.15, 50.0], [14.18, 50.4], [14.16, 50.2], [14.15, 47.1], [14.15, 45.8], [14.19, 45.0], [14.24, 43.5],
  [14.26, 42.8], [14.28, 42.1], [14.31, 45.6], [14.38, 46.0], [14.42, 46.4], [14.55, 46.6], [14.61, 45.4],
  [14.68, 44.3], [14.74, 45.9], [14.8, 47.2], [14.87, 46.4], [14.98, 45.9], [15.05, 42.0], [15.06, 47.6],
  [15.07, 46.6], [15.23, 49.0], [15.24, 45.6], [15.28, 43.5], [15.3, 43.1], [15.34, 45.5], [15.41, 47.7],
  [15.43, 48.0], [15.45, 47.2], [15.51, 49.9], [15.53, 49.0], [15.5, 44.9], [15.66, 49.6], [15.78, 45.9],
  [15.84, 45.7], [15.84, 49.0], [15.82, 44.6], [15.87, 49.4], [15.88, 44.4], [15.9, 45.5], [15.94, 48.3],
  [16.0, 44.8], [16.01, 49.2], [16.04, 48.1], [16.18, 50.6], [16.21, 49.1], [16.24, 50.6], [16.25, 49.1],
  [16.3, 46.3], [16.4, 45.3], [16.43, 49.3], [16.48, 48.6], [16.51, 45.8], [16.57, 49.6], [16.63, 47.0],
  [16.66, 49.6], [16.83, 49.6], [16.91, 45.5], [16.92, 50.0], [16.96, 44.8], [16.97, 52.1], [17.11, 48.1],
  [17.12, 48.6], [17.28, 51.1], [17.35, 50.1], [17.48, 48.1], [17.55, 50.0], [17.6, 50.0], [17.75, 50.0],
  [17.81, 46.0], [17.88, 50.0], [17.93, 51.4], [17.99, 48.1], [18.11, 52.1], [18.16, 49.0], [18.17, 51.0],
  [18.31, 48.8], [18.36, 51.9], [18.63, 47.5], [19.41, 55.2], [19.69, 55.1], [19.42, 50.4], [19.56, 46.2],
];

// Fit line as printed in the subtitle
const fitSlope = 1.074554;
const fitIntercept = 30.438163;
const fitR2 = 0.279634;
const fitStartX = 0.55;
const cutInX = 3;
const fitEndX = 20;

const cutInLineX = 3.05;
const maxSoundPowerX = 10.06;

const xTicks = [0, 1, 2, 3, 4, 5, 6, 7, 8, 9, 10, 11, 12, 13, 14, 15, 16, 17, 18, 19, 20];
const yTicks = [10, 15, 20, 25, 30, 35, 40, 45, 50, 55, 60, 65, 70];

const FONT = 'Arial, "Liberation Sans", sans-serif';
const TITLE_COLOR = "#9A1592";
const FIT_COLOR = "#FFC000";
const FIT_SHADED = "#D9BF70";
const GRID = "#9A9A9A";

const toPoints = (rows: [number, number][]) => rows.map(([x, y]) => ({ x, y }));

const shadedPoints = toPoints(belowCutIn);
const operationalPoints = toPoints([
  ...band3to4,
  ...band4to5,
  ...band5to6,
  ...core3to6,
  ...lowBand3to6,
  ...mid3to7,
  ...band6to7,
  ...band7to8,
  ...core6to8,
  ...band8to9,
  ...band9to10,
  ...core8to11,
  ...core7to11,
  ...band10to11,
  ...band11to12,
  ...band12to14,
  ...band14to20,
]);

const fitY = (x: number) => fitSlope * x + fitIntercept;
const fitShaded = [fitStartX, cutInX].map((x) => ({ x, y: fitY(x) }));
const fitOperational = [cutInX, fitEndX].map((x) => ({ x, y: fitY(x) }));

// small fat "+" marker, 5px across
const plusMarker = (color: string) => (props: any) => {
  const { cx, cy } = props;
  if (cx == null || cy == null) return <g />;
  const a = 1.5;
  const b = 2.5;
  return (
    <path
      d={`M${cx - a},${cy - b}H${cx + a}V${cy - a}H${cx + b}V${cy + a}H${cx + a}V${cy + b}H${cx - a}V${cy + a}H${cx - b}V${cy - a}H${cx - a}Z`}
      fill={color}
    />
  );
};

const noDot = () => <g />;

export default function App() {
  return (
    <div
      style={{
        position: "absolute",
        left: 0,
        top: 0,
        width: 1170,
        height: 751,
        background: "#fff",
        fontFamily: FONT,
        color: "#000",
      }}
    >
      <div
        style={{
          position: "absolute",
          left: 0,
          width: 1256,
          top: 3,
          lineHeight: "30px",
          textAlign: "center",
          fontSize: 26,
          fontWeight: "bold",
          color: TITLE_COLOR,
        }}
      >
        All-time noise level vs wind speed - V16A
      </div>
      <div
        style={{
          position: "absolute",
          left: 0,
          width: 1262,
          top: 48,
          textAlign: "center",
          fontSize: 20,
          lineHeight: "20px",
        }}
      >
        Fit line eqn: y = {fitSlope.toFixed(6)}x + {fitIntercept.toFixed(6)}
        <br />
        R² = {fitR2.toFixed(6)}
      </div>

      <ScatterChart
        width={1170}
        height={751}
        margin={{ top: 114, right: 22, bottom: 53, left: 34.5 }}
        style={{ position: "absolute", left: 0, top: 0 }}
      >
        <ReferenceArea
          x1={0}
          x2={cutInX}
          y1={10}
          y2={70}
          fill="#D9D9D9"
          fillOpacity={1}
          stroke="none"
          zIndex={-150}
        />
        <CartesianGrid
          horizontal
          vertical={false}
          stroke={GRID}
          strokeDasharray="2 2"
        />
        <CartesianGrid
          horizontal={false}
          vertical
          stroke={GRID}
          strokeDasharray="5 3"
        />
        <XAxis
          type="number"
          dataKey="x"
          domain={[0, 20]}
          ticks={xTicks}
          interval={0}
          height={30}
          allowDataOverflow
          tickSize={-5}
          tickMargin={22}
          axisLine={{ stroke: "#000", strokeWidth: 2 }}
          tickLine={{ stroke: "#000" }}
          tick={{ fill: "#000", fontSize: 19.5, fontFamily: FONT }}
        />
        <YAxis
          type="number"
          dataKey="y"
          domain={[10, 70]}
          ticks={yTicks}
          interval={0}
          width={60}
          allowDataOverflow
          tickSize={5}
          tickMargin={9}
          axisLine={{ stroke: "#000", strokeWidth: 1.5 }}
          tickLine={{ stroke: "#000" }}
          tick={{ fill: "#000", fontSize: 19.5, fontFamily: FONT }}
        />

        <Scatter
          name="Shaded Noise Data"
          data={shadedPoints}
          shape={plusMarker("#707070")}
          isAnimationActive={false}
        />
        <Scatter
          name="Operational Noise Data"
          data={operationalPoints}
          shape={plusMarker("#000")}
          isAnimationActive={false}
        />
        <Scatter
          name="Linear Fit (shaded)"
          data={fitShaded}
          line={{ stroke: FIT_SHADED, strokeWidth: 4 }}
          lineType="joint"
          shape={noDot}
          isAnimationActive={false}
        />
        <Scatter
          name="Linear Fit (Operational)"
          data={fitOperational}
          line={{ stroke: FIT_COLOR, strokeWidth: 4 }}
          lineType="joint"
          shape={noDot}
          isAnimationActive={false}
        />

        <ReferenceLine
          x={cutInLineX}
          stroke="#000"
          strokeWidth={3}
          strokeDasharray="15 7"
          zIndex={700}
        />
        <ReferenceLine
          x={maxSoundPowerX}
          stroke="#000"
          strokeWidth={3}
          strokeDasharray="15 7"
          zIndex={700}
        />
        {/* arrow pointing at the 10 m/s line */}
        <ReferenceLine
          segment={[
            { x: 10.17, y: 61.65 },
            { x: 10.96, y: 61.65 },
          ]}
          stroke="#000"
          strokeWidth={1.5}
          zIndex={700}
        />
        <ReferenceLine
          segment={[
            { x: 10.17, y: 61.65 },
            { x: 10.33, y: 62.3 },
          ]}
          stroke="#000"
          strokeWidth={1.5}
          zIndex={700}
        />
        <ReferenceLine
          segment={[
            { x: 10.17, y: 61.65 },
            { x: 10.33, y: 61.0 },
          ]}
          stroke="#000"
          strokeWidth={1.5}
          zIndex={700}
        />
      </ScatterChart>

      <div
        style={{
          position: "absolute",
          left: 95,
          width: 160,
          top: 166,
          textAlign: "center",
          fontSize: 16.5,
          fontWeight: "bold",
          lineHeight: "19px",
          whiteSpace: "nowrap",
        }}
      >
        Below Wind
        <br />
        Turbine
        <br />
        Cut-In Wind Speed
      </div>
      <div
        style={{
          position: "absolute",
          left: 691,
          top: 174,
          fontSize: 16.5,
          fontWeight: "bold",
          lineHeight: "19px",
          whiteSpace: "nowrap",
        }}
      >
        Maximum Wind Turbine
        <br />
        Sound Power Level at 10 m/s
      </div>

      {/* legend */}
      <div
        style={{
          position: "absolute",
          left: 385,
          top: 632,
          width: 594,
          height: 28,
          border: "1px solid #000",
          background: "#fff",
          boxSizing: "border-box",
          fontSize: 18,
        }}
      >
        <svg
          width={592}
          height={26}
          style={{ position: "absolute", left: 0, top: 0 }}
        >
          <path d="M66,11H68V12.5H69.5V14.5H68V16H66V14.5H64.5V12.5H66Z" fill="#000" />
          <line x1={324} x2={360} y1={13.5} y2={13.5} stroke={FIT_COLOR} strokeWidth={4} />
        </svg>
        <span style={{ position: "absolute", left: 87, top: 2, whiteSpace: "nowrap" }}>
          Operational Noise Data
        </span>
        <span style={{ position: "absolute", left: 362, top: 2, whiteSpace: "nowrap" }}>
          Linear Fit (Operational)
        </span>
      </div>

      <div
        style={{
          position: "absolute",
          left: 19,
          top: 425,
          transform: "translate(-50%, -50%) rotate(-90deg)",
          whiteSpace: "nowrap",
          fontSize: 19,
        }}
      >
        Noise Level [dB(A) L<sub style={{ fontSize: 13 }}>95,10min</sub>]
      </div>
      <div
        style={{
          position: "absolute",
          left: 637,
          top: 723,
          transform: "translateX(-50%)",
          whiteSpace: "nowrap",
          fontSize: 19,
        }}
      >
        Hub Height Wind speed [ms<sup style={{ fontSize: 13 }}>-1</sup>]
      </div>
    </div>
  );
}
